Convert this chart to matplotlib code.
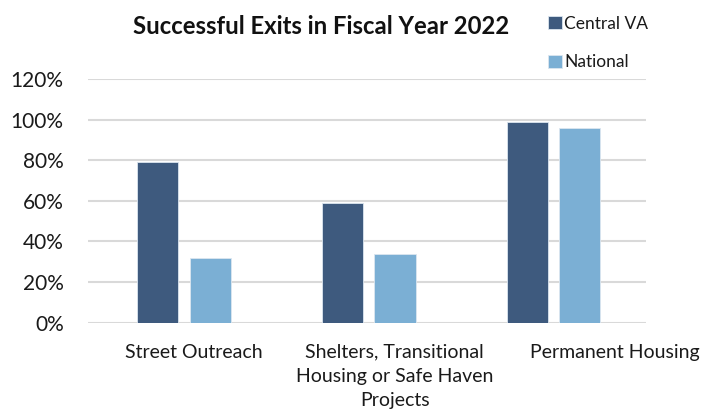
import matplotlib
matplotlib.use("Agg")
import matplotlib.pyplot as plt
import numpy as np

categories = ["Street Outreach",
              "Shelters, Transitional\nHousing or Safe Haven\nProjects",
              "Permanent Housing"]
series_names = ["Central VA", "National"]
central_va = [0.79, 0.59, 0.99]
national = [0.32, 0.34, 0.96]
y_ticks = [0, 0.2, 0.4, 0.6, 0.8, 1.0, 1.2]
y_tick_labels = ["0%", "20%", "40%", "60%", "80%", "100%", "120%"]

colors = ["#3E5A7E", "#7BAFD4"]
font = ["Lato", "DejaVu Sans"]
plt.rcParams["font.family"] = font

fig = plt.figure(figsize=(7.28, 4.11), dpi=100)
W, H = 728, 411
ax = fig.add_axes([88 / W, 1 - 322.7 / H, (646 - 88) / W, (322.7 - 79) / H])

x = np.arange(len(categories))
bw = 0.223
off = 0.142
for vals, name, c, d in zip([central_va, national], series_names, colors, [-off, off]):
    ax.bar(x + d, vals, width=bw, color=c, label=name, zorder=3,
           edgecolor="#DCE6F0", linewidth=0.6)

ax.set_xlim(-0.52, 2.5)
ax.set_ylim(0, 1.2)
ax.set_yticks(y_ticks)
ax.set_yticklabels(y_tick_labels, fontsize=15, color="#1a1a1a")
# category labels sit a little to the right of their bar groups
label_shift = np.array([0.05, 0.14, 0.33])
ax.set_xticks(x + label_shift)
ax.set_xticklabels(categories, fontsize=14, color="#1a1a1a", linespacing=1.5)
ax.tick_params(length=0)
ax.tick_params(axis="y", pad=17.5)
ax.tick_params(axis="x", pad=15)
ax.grid(axis="y", color="#D9D9D9", linewidth=1.5, zorder=0)
for s in ax.spines.values():
    s.set_visible(False)

fig.text(321 / W, 1 - 26 / H, "Successful Exits in Fiscal Year 2022",
         ha="center", va="center", fontsize=17.2, fontweight="bold", color="#111111")

leg = fig.legend(loc="upper left", bbox_to_anchor=(532 / W, 1 - 0 / H),
                 frameon=False, fontsize=12.5, handlelength=0.8, handleheight=0.8,
                 handletextpad=0.15, labelspacing=1.3)
for t in leg.get_texts():
    t.set_color("#1a1a1a")

fig.savefig("out.png", dpi=100)
